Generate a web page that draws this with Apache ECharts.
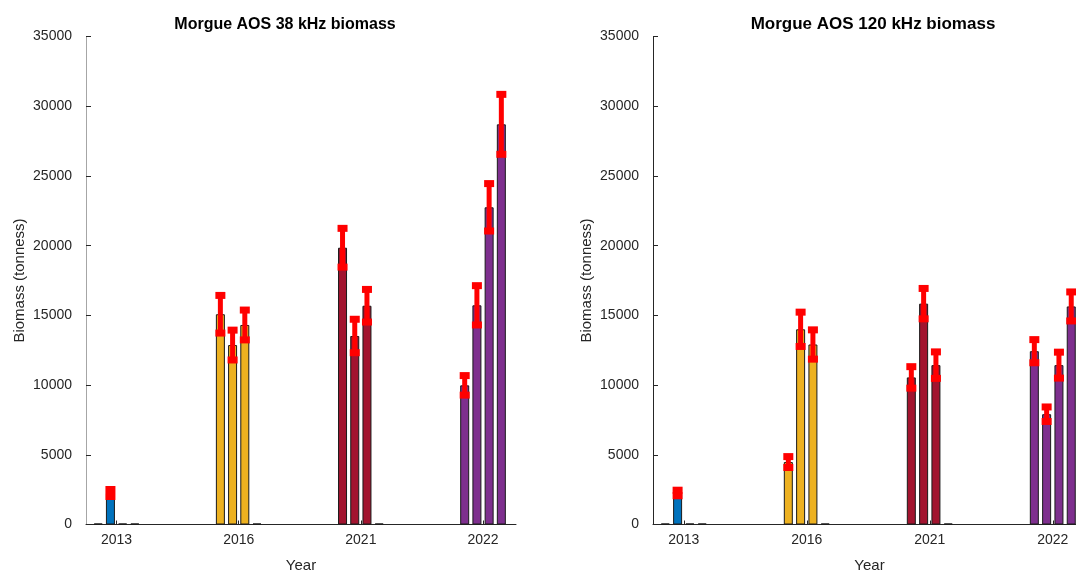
<!DOCTYPE html>
<html>
<head>
<meta charset="utf-8">
<script src="https://cdn.jsdelivr.net/npm/echarts@6/dist/echarts.min.js"></script>
<style>
    html, body {margin: 0; padding: 0; background: #fff;}
    #main {width: 1076px; height: 574px;}
</style>
</head>
<body>
<div id="main"></div>
<script>
// years on the x axis (one group of 4 bars per year)
let years = ['2013', '2016', '2021', '2022'];
let yearColors = ['#0072BD', '#EDB120', '#A2142F', '#7E2F8E'];
// slot offset of each bar inside its group
let slotOffsets = [-0.15, -0.05, 0.05, 0.15];
let yTicks = [0, 5000, 10000, 15000, 20000, 25000, 30000, 35000];

// 38 kHz biomass (tonnes), 4 bars per year, and the +/- error
let biomass38 = [
    [0, 2260, 0, 0],
    [15080, 12870, 14310, 0],
    [19850, 13520, 15690, 0],
    [9980, 15720, 22750, 28700]
];
let err38 = [
    [0, 250, 0, 0],
    [1350, 1070, 1070, 0],
    [1390, 1200, 1170, 0],
    [700, 1410, 1700, 2150]
];

// 120 kHz biomass (tonnes)
let biomass120 = [
    [0, 2260, 0, 0],
    [4480, 14000, 12910, 0],
    [10550, 15840, 11430, 0],
    [12430, 7910, 11430, 15640]
];
let err120 = [
    [0, 200, 0, 0],
    [390, 1230, 1050, 0],
    [770, 1090, 950, 0],
    [830, 520, 930, 1040]
];

let font = "'Liberation Sans', Arial, Helvetica, sans-serif";

function barData(values) {
    let out = [];
    for (let g = 0; g < values.length; g++) {
        for (let s = 0; s < values[g].length; s++) {
            out.push({value: [g + 1 + slotOffsets[s], values[g][s]], itemStyle: {color: yearColors[g]}});
        }
    }
    return out;
}

function errData(values, errs) {
    let out = [];
    for (let g = 0; g < values.length; g++) {
        for (let s = 0; s < values[g].length; s++) {
            if (values[g][s] > 0) {
                out.push([g + 1 + slotOffsets[s], values[g][s] - errs[g][s], values[g][s] + errs[g][s]]);
            }
        }
    }
    return out;
}

// red error bar with square caps
function renderErr(params, api) {
    let lo = api.coord([api.value(0), api.value(1)]);
    let hi = api.coord([api.value(0), api.value(2)]);
    let cw = 10, ch = 7;
    return {
        type: 'group',
        children: [
            {type: 'line', shape: {x1: lo[0], y1: lo[1], x2: hi[0], y2: hi[1]}, style: {stroke: '#ff0000', lineWidth: 5}},
            {type: 'rect', shape: {x: hi[0] - cw / 2, y: hi[1] - ch / 2, width: cw, height: ch}, style: {fill: '#ff0000'}},
            {type: 'rect', shape: {x: lo[0] - cw / 2, y: lo[1] - ch / 2, width: cw, height: ch}, style: {fill: '#ff0000'}}
        ]
    };
}

function xAxisOf(idx) {
    return {
        type: 'value', gridIndex: idx, min: 0.75, max: 4.27,
        name: 'Year', nameLocation: 'middle', nameGap: 34,
        nameTextStyle: {fontFamily: font, fontSize: 15, color: '#262626'},
        axisLine: {show: true, onZero: false, lineStyle: {color: '#262626', width: 1}},
        axisTick: {show: true, inside: true, length: 4, customValues: [1, 2, 3, 4], lineStyle: {color: '#262626'}},
        axisLabel: {
            customValues: [1, 2, 3, 4], margin: 9,
            fontFamily: font, fontSize: 14, color: '#262626',
            formatter: function (v) { return years[Math.round(v) - 1]; }
        },
        splitLine: {show: false}
    };
}

function yAxisOf(idx, lineColor) {
    return {
        type: 'value', gridIndex: idx, min: yTicks[0], max: yTicks[yTicks.length - 1], interval: 5000,
        name: 'Biomass (tonness)', nameLocation: 'middle', nameGap: 59,
        nameTextStyle: {fontFamily: font, fontSize: 15, color: '#262626'},
        axisLine: {show: true, lineStyle: {color: lineColor, width: 1}},
        axisTick: {show: true, inside: true, length: 5, lineStyle: {color: '#262626'}},
        axisLabel: {
            margin: 14, fontFamily: font, fontSize: 14, color: '#262626',
            formatter: function (v) { return String(v); }
        },
        splitLine: {show: false}
    };
}

let myChart = echarts.init(document.getElementById('main'));
let option = {
    animation: false,
    title: [
        {text: 'Morgue AOS 38 kHz biomass', left: 280, top: 12, textAlign: 'center',
            textStyle: {fontFamily: font, fontSize: 16, fontWeight: 'bold', color: '#000'}},
        {text: 'Morgue AOS 120 kHz biomass', left: 868, top: 11, textAlign: 'center',
            textStyle: {fontFamily: font, fontSize: 17, fontWeight: 'bold', color: '#000'}}
    ],
    grid: [
        {left: 86, right: 560, top: 36.5, bottom: 49.5, outerBoundsMode: 'none'},
        {left: 653, right: -10, top: 36.5, bottom: 49.5, outerBoundsMode: 'none'}
    ],
    xAxis: [xAxisOf(0), xAxisOf(1)],
    yAxis: [yAxisOf(0, '#a6a6a6'), yAxisOf(1, '#262626')],
    series: [
        {
            name: '38 kHz', type: 'bar', xAxisIndex: 0, yAxisIndex: 0, barWidth: 9, barMinHeight: 1,
            itemStyle: {borderColor: '#1a1a1a', borderWidth: 1},
            data: barData(biomass38)
        },
        {
            name: '38 kHz err', type: 'custom', xAxisIndex: 0, yAxisIndex: 0, z: 5,
            renderItem: renderErr, encode: {x: 0, y: [1, 2]},
            data: errData(biomass38, err38)
        },
        {
            name: '120 kHz', type: 'bar', xAxisIndex: 1, yAxisIndex: 1, barWidth: 9, barMinHeight: 1,
            itemStyle: {borderColor: '#1a1a1a', borderWidth: 1},
            data: barData(biomass120)
        },
        {
            name: '120 kHz err', type: 'custom', xAxisIndex: 1, yAxisIndex: 1, z: 5,
            renderItem: renderErr, encode: {x: 0, y: [1, 2]},
            data: errData(biomass120, err120)
        }
    ]
};
myChart.setOption(option);
</script>
</body>
</html>
